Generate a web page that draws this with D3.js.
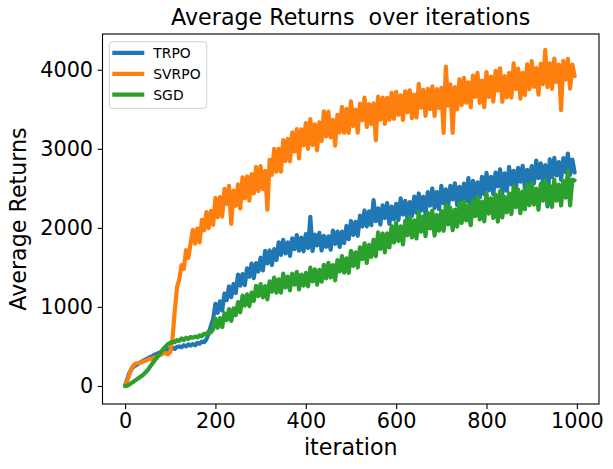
<!DOCTYPE html>
<html><head><meta charset="utf-8">
<script src="https://cdn.jsdelivr.net/npm/d3@7/dist/d3.min.js"></script>
<style>body{margin:0;background:#fff;}svg{display:block;font-family:"DejaVu Sans",sans-serif;}text{white-space:pre;}</style>
</head><body>
<script>
// Sampled every 5 iterations (0..995)
const seriesNames = ["TRPO", "SVRPO", "SGD"];
const seriesColors = ["#1f77b4", "#ff7f0e", "#2ca02c"];
const xTicks = [0, 200, 400, 600, 800, 1000];
const yTicks = [0, 1000, 2000, 3000, 4000];
const titleText = "Average Returns  over iterations";
const xLabel = "iteration";
const yLabel = "Average Returns";

const trpo = [
0, 90, 170, 220, 250, 265, 285, 300, 320, 335,
350, 365, 375, 395, 405, 420, 435, 445, 455, 465,
470, 485, 470, 495, 500, 490, 515, 500, 525, 510,
530, 515, 545, 535, 560, 555, 590, 660, 760, 850,
1040, 925, 1070, 955, 1170, 1085, 1260, 1125, 1290, 1175,
1410, 1270, 1416, 1276, 1488, 1381, 1549, 1365, 1555, 1448,
1622, 1462, 1710, 1550, 1714, 1530, 1730, 1594, 1818, 1658,
1848, 1676, 1816, 1644, 1868, 1732, 1908, 1712, 1876, 1704,
1920, 1745, 2140, 1707, 1916, 1777, 1938, 1715, 1900, 1761,
1892, 1724, 1964, 1796, 1952, 1760, 1952, 1808, 2024, 1856,
2087, 1912, 2075, 1900, 2154, 2018, 2220, 2019, 2208, 2033,
2350, 2086, 2246, 2042, 2286, 2124, 2312, 2052, 2268, 2106,
2304, 2100, 2372, 2168, 2342, 2110, 2326, 2150, 2394, 2190,
2435, 2218, 2391, 2174, 2452, 2280, 2498, 2251, 2454, 2237,
2530, 2313, 2486, 2269, 2532, 2360, 2563, 2286, 2519, 2347,
2560, 2340, 2630, 2040, 2595, 2345, 2575, 2385, 2645, 2425,
2695, 2475, 2645, 2425, 2700, 2525, 2740, 2430, 2690, 2470,
2770, 2550, 2720, 2500, 2760, 2585, 2785, 2505, 2735, 2560,
2780, 2560, 2850, 2630, 2815, 2565, 2795, 2270, 2865, 2645,
2885, 2663, 2831, 2609, 2882, 2705, 2940, 2671, 2864, 2700
];
const svrpo = [
0, 70, 150, 230, 270, 285, 290, 300, 310, 320,
330, 345, 340, 360, 365, 390, 395, 420, 410, 400,
430, 600, 950, 1250, 1350, 1530, 1480, 1720, 1620, 1800,
1976, 1801, 1990, 1815, 2102, 1969, 2200, 1997, 2214, 2039,
2380, 2135, 2388, 2143, 2494, 2303, 2532, 2050, 2470, 2279,
2550, 2245, 2640, 2375, 2650, 2345, 2680, 2435, 2770, 2465,
2780, 2490, 2720, 2230, 2860, 2670, 3000, 2710, 3000, 2710,
3110, 2845, 3126, 2841, 3208, 2966, 3249, 2880, 3245, 3043,
3326, 2999, 3376, 3049, 3309, 2980, 3333, 3098, 3473, 3156,
3469, 3144, 3365, 3040, 3428, 3206, 3530, 3203, 3506, 3201,
3600, 3288, 3496, 3204, 3572, 3360, 3648, 3276, 3564, 3312,
3576, 3110, 3660, 3370, 3647, 3315, 3645, 3367, 3709, 3379,
3719, 3429, 3675, 3365, 3728, 3461, 3740, 3388, 3686, 3396,
3820, 3520, 3746, 3416, 3758, 3501, 3789, 3415, 3755, 3518,
3772, 3200, 4040, 3545, 3814, 3200, 3780, 3499, 3878, 3553,
3898, 3583, 3840, 3525, 3926, 3657, 3960, 3581, 3862, 3527,
3970, 3655, 3912, 3597, 3986, 3737, 4018, 3595, 3920, 3651,
3962, 3647, 4080, 3755, 4014, 3635, 3960, 3679, 4068, 3753,
4108, 3783, 4020, 3685, 4076, 3817, 4250, 3781, 4082, 3757,
4140, 3843, 4066, 3489, 4112, 3875, 4138, 3761, 4064, 3920
];
const sgd = [
0, 5, 20, 40, 60, 80, 100, 120, 140, 170,
200, 240, 280, 320, 355, 395, 430, 470, 500, 530,
545, 560, 555, 580, 570, 600, 580, 610, 595, 620,
610, 625, 615, 640, 630, 660, 650, 690, 680, 720,
850, 737, 858, 745, 920, 834, 973, 824, 981, 895,
1060, 932, 1144, 1016, 1158, 1010, 1182, 1074, 1266, 1138,
1288, 1120, 1264, 1096, 1324, 1192, 1372, 1180, 1348, 1180,
1420, 1246, 1384, 1210, 1420, 1282, 1444, 1222, 1408, 1270,
1432, 1260, 1496, 1324, 1476, 1280, 1468, 1320, 1532, 1360,
1557, 1374, 1529, 1336, 1592, 1448, 1642, 1433, 1614, 1431,
1710, 1518, 1690, 1498, 1754, 1604, 1804, 1556, 1784, 1634,
1850, 1641, 1942, 1733, 1929, 1690, 1931, 1752, 2023, 1814,
2064, 1834, 2020, 1790, 2088, 1906, 2140, 1878, 2096, 1866,
2200, 1951, 2144, 1895, 2190, 1992, 2219, 1902, 2163, 1965,
2212, 1963, 2292, 2043, 2253, 1970, 2231, 2016, 2311, 2062,
2343, 2093, 2285, 2035, 2346, 2147, 2390, 2106, 2332, 2082,
2430, 2181, 2374, 2125, 2420, 2080, 2466, 2132, 2393, 2195,
2438, 2175, 2524, 2261, 2484, 2185, 2462, 2235, 2548, 2285,
2562, 2295, 2496, 2229, 2556, 2343, 2598, 2295, 2532, 2265,
2610, 2345, 2548, 2283, 2594, 2383, 2720, 2285, 2610, 2600
];
const seriesValues = [trpo, svrpo, sgd];
const iterationStep = 5;

const W = 613, H = 469;
const m = {left: 102.5, right: 599, top: 34, bottom: 404};
const svg = d3.select("body").append("svg").attr("width", W).attr("height", H);

const x = d3.scaleLinear().domain([-49.95, 1048.95]).range([m.left, m.right]);
const y = d3.scaleLinear().domain([-228, 4452]).range([m.bottom, m.top]);

svg.append("clipPath").attr("id", "clip").append("rect")
  .attr("x", m.left).attr("y", m.top).attr("width", m.right - m.left).attr("height", m.bottom - m.top);

const line = d3.line().x((d, i) => x(i * iterationStep)).y(d => y(d));
const plot = svg.append("g").attr("clip-path", "url(#clip)");
seriesValues.forEach((vals, k) => {
  plot.append("path").datum(vals).attr("d", line)
    .attr("fill", "none").attr("stroke", seriesColors[k]).attr("stroke-width", 4.2)
    .attr("stroke-linejoin", "round").attr("stroke-linecap", "round");
});

// axes
const xAxis = svg.append("g").attr("transform", `translate(0,${m.bottom})`)
  .call(d3.axisBottom(x).tickValues(xTicks).tickSize(4.9).tickPadding(4.5).tickFormat(d3.format("d")));
const yAxis = svg.append("g").attr("transform", `translate(${m.left},0)`)
  .call(d3.axisLeft(y).tickValues(yTicks).tickSize(4.9).tickPadding(4.5).tickFormat(d3.format("d")));
[xAxis, yAxis].forEach(a => {
  a.select(".domain").remove();
  a.selectAll("line").attr("stroke", "#000").attr("stroke-width", 1.1);
  a.selectAll("text").attr("font-size", 20.8).attr("fill", "#000").attr("font-family", "DejaVu Sans");
});

svg.append("rect").attr("x", m.left).attr("y", m.top).attr("width", m.right - m.left).attr("height", m.bottom - m.top)
  .attr("fill", "none").attr("stroke", "#000").attr("stroke-width", 1.1);

// title and labels
svg.append("text").attr("x", (m.left + m.right) / 2).attr("y", 25).attr("text-anchor", "middle")
  .attr("font-size", 22.2).text(titleText);
svg.append("text").attr("x", (m.left + m.right) / 2).attr("y", 455).attr("text-anchor", "middle")
  .attr("font-size", 22.2).text(xLabel);
svg.append("text").attr("transform", `translate(26,${(m.top + m.bottom) / 2}) rotate(-90)`).attr("text-anchor", "middle")
  .attr("font-size", 22.2).text(yLabel);

// legend
const lg = svg.append("g");
lg.append("rect").attr("x", 109.3).attr("y", 41.7).attr("width", 97.4).attr("height", 66.6).attr("rx", 3)
  .attr("fill", "#fff").attr("fill-opacity", 0.8).attr("stroke", "#d0d0d0").attr("stroke-width", 1);
seriesNames.forEach((n, k) => {
  const yy = 52.9 + k * 20.9;
  lg.append("line").attr("x1", 112.3).attr("x2", 144.3).attr("y1", yy).attr("y2", yy)
    .attr("stroke", seriesColors[k]).attr("stroke-width", 4.2);
  lg.append("text").attr("x", 153.3).attr("y", yy).attr("dy", "0.36em").attr("font-size", 13.9).text(n);
});
</script>
</body></html>
